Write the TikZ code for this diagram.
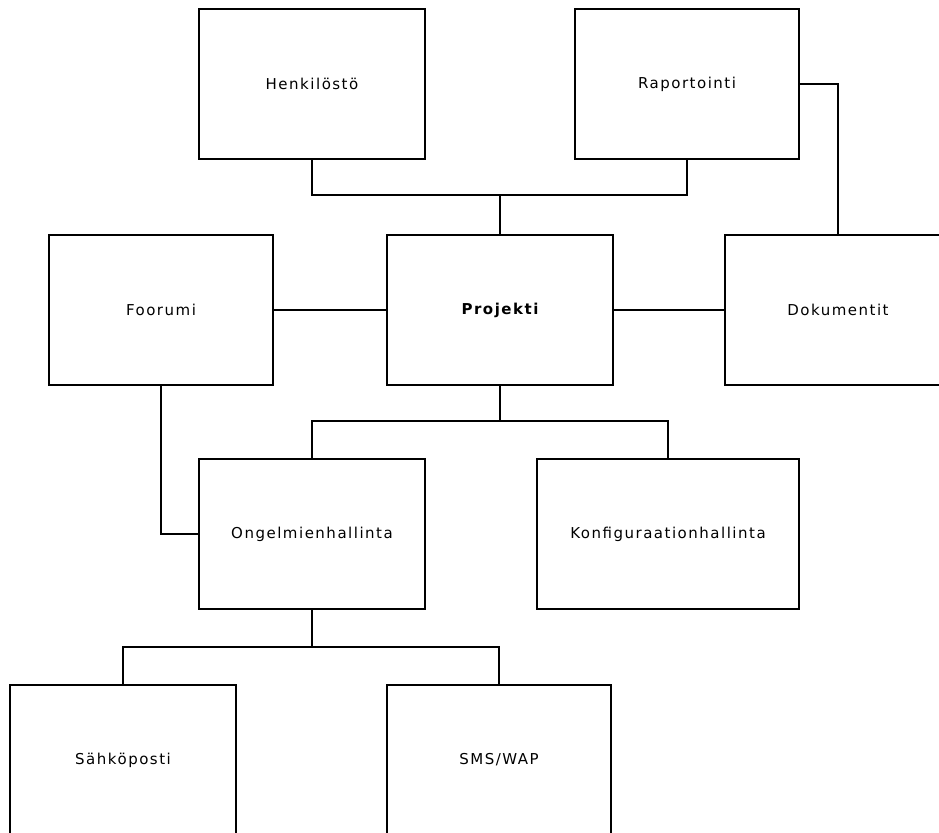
\documentclass[tikz,border=0pt]{standalone}
\usepackage{fontspec}
\newfontfamily\boxfont[LetterSpace=10]{DejaVu Sans}
\begin{document}
\begin{tikzpicture}[x=1pt,y=-1pt,
  box/.style={draw=black,line width=1.6pt,fill=white,rectangle,inner sep=0pt,outer sep=0pt,
    minimum height=150pt,font=\boxfont\fontsize{15}{18}\selectfont},
  link/.style={draw=black,line width=1.6pt}]
\useasboundingbox (0,0) rectangle (939,832);
\clip (0,0) rectangle (939,832);
\fill[white] (0,0) rectangle (939,832);

% top row
\node[box,minimum width=226pt] (henk) at (312,84) {Henkilöstö};
\node[box,minimum width=224pt] (rap) at (687,84) {Raportointi};
% middle row
\node[box,minimum width=224pt] (foor) at (161,310) {Foorumi};
\node[box,minimum width=226pt] (proj) at (500,310) {\bfseries Projekti};
\node[box,minimum width=226pt] (dok) at (838,310) {Dokumentit};
% third row
\node[box,minimum width=226pt] (ong) at (312,534) {Ongelmienhallinta};
\node[box,minimum width=262pt] (konf) at (668,534) {Konfiguraationhallinta};
% bottom row
\node[box,minimum width=226pt] (sah) at (123,760) {Sähköposti};
\node[box,minimum width=224pt] (sms) at (499,760) {SMS/WAP};

% bus junctions
\coordinate (busA) at (500,195);
\coordinate (busB) at (500,421);
\coordinate (busC) at (312,647);

% connectors
\draw[link] (henk.south) |- (busA) -| (rap.south);
\draw[link] (busA) -- (proj.north);
\draw[link] (rap.east) -| (dok.north);
\draw[link] (foor.east) -- (proj.west);
\draw[link] (proj.east) -- (dok.west);
\draw[link] (proj.south) -- (busB);
\draw[link] (ong.north) |- (busB) -| (konf.north);
\draw[link] (foor.south) |- (ong.west);
\draw[link] (ong.south) -- (busC);
\draw[link] (sah.north) |- (busC) -| (sms.north);
\end{tikzpicture}
\end{document}
